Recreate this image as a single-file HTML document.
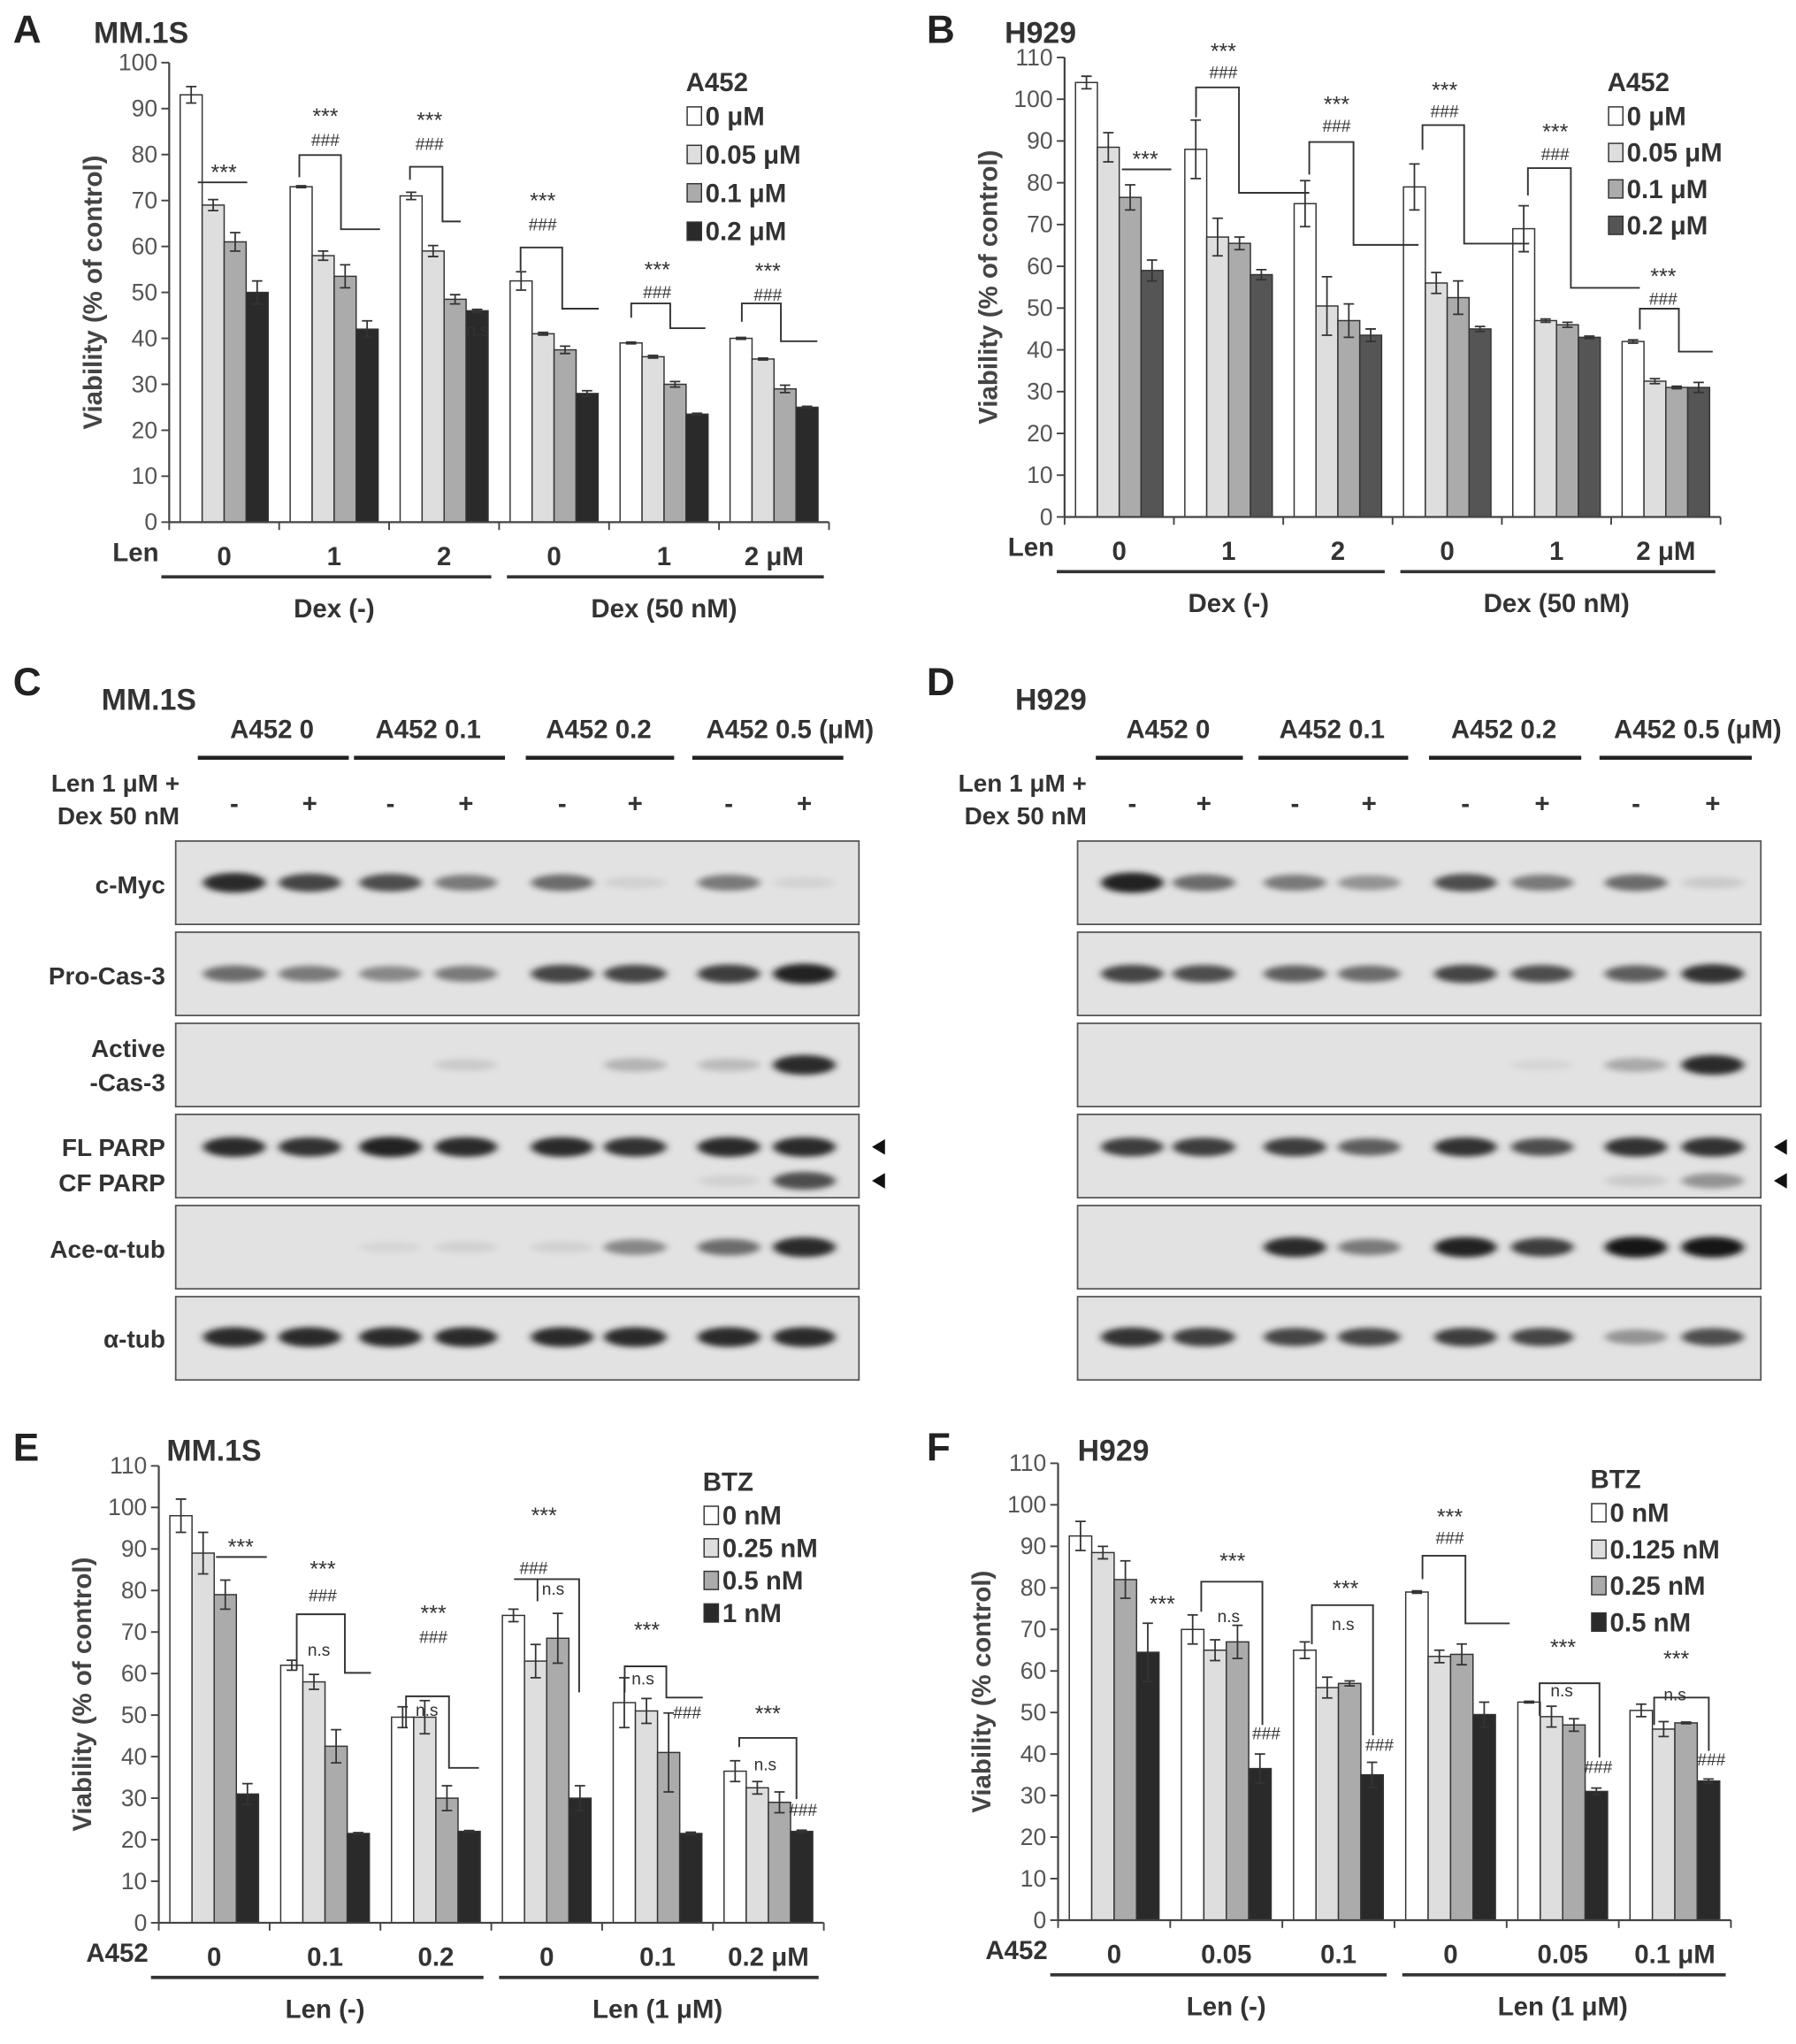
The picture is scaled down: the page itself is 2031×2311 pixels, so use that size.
<!DOCTYPE html>
<html><head><meta charset="utf-8"><style>
html,body{margin:0;padding:0;background:#fff;}
svg{display:block;font-family:"Liberation Sans",Arial,sans-serif;}
</style></head><body>
<svg id="fig" width="2031" height="2311" viewBox="0 0 1380 1570" xmlns="http://www.w3.org/2000/svg">
<defs>
<filter id="blur" x="-20%" y="-100%" width="140%" height="300%"><feGaussianBlur stdDeviation="3 2.2"/></filter>
</defs>
<g id="root"></g>
</svg>
<script>
// ---- Panel A data (MM.1S, A452) ----
const catsA = ["0","1","2","0","1","2  μM"];
const aWhite = [93,73,71,52.5,39,40];
const aLight = [69,58,59,41,36,35.5];
const aMid = [61,53.5,48.5,37.5,30,29];
const aDark = [50,42,46,28,23.5,25];
const aErr = [[1.8,0.2,0.8,2,0.2,0.2],[1.2,1,1.2,0.3,0.3,0.2],[2,2.5,1,0.8,0.6,0.8],[2.5,1.8,0.3,0.6,0.2,0.2]];
const ticksA = [0,10,20,30,40,50,60,70,80,90,100];
const legA = ["0 μM","0.05 μM","0.1 μM","0.2 μM"];
// ---- Panel B data (H929, A452) ----
const catsB = ["0","1","2","0","1","2 μM"];
const bWhite = [104,88,75,79,69,42];
const bLight = [88.5,67,50.5,56,47,32.5];
const bMid = [76.5,65.5,47,52.5,46,31];
const bDark = [59,58,43.5,45,43,31];
const bErr = [[1.5,7,5.5,5.5,5.5,0.4],[3.5,4.5,7,2.5,0.4,0.6],[3,1.5,4,4,0.6,0.3],[2.5,1.2,1.5,0.6,0.3,1.2]];
const ticksB = [0,10,20,30,40,50,60,70,80,90,100,110];
const legB = ["0 μM","0.05 μM","0.1 μM","0.2 μM"];
// ---- Panel E data (MM.1S, BTZ) ----
const catsE = ["0","0.1","0.2","0","0.1","0.2 μM"];
const eWhite = [98,62,49.5,74,53,36.5];
const eLight = [89,58,49.5,63,51,32.5];
const eMid = [79,42.5,30,68.5,41,29];
const eDark = [31,21.5,22,30,21.5,22];
const eErr = [[4,1.2,2.5,1.5,6,2.5],[5,1.8,4,4,3,1.5],[3.5,4,3,6,9.5,2.5],[2.5,0.2,0.2,3,0.3,0.3]];
const ticksE = [0,10,20,30,40,50,60,70,80,90,100,110];
const legE = ["0 nM","0.25 nM","0.5 nM","1 nM"];
// ---- Panel F data (H929, BTZ) ----
const catsF = ["0","0.05","0.1","0","0.05","0.1 μM"];
const fWhite = [92.5,70,65,79,52.5,50.5];
const fLight = [88.5,65,56,63.5,49,46];
const fMid = [82,67,57,64,47,47.5];
const fDark = [64.5,36.5,35,49.5,31,33.5];
const fErr = [[3.5,3.5,2,0.3,0.2,1.5],[1.5,2.5,2.5,1.5,2.5,1.8],[4.5,4,0.6,2.5,1.5,0.2],[7,3.5,3,3,0.8,0.5]];
const ticksF = [0,10,20,30,40,50,60,70,80,90,100,110];
const legF = ["0 nM","0.125 nM","0.25 nM","0.5 nM"];
// ---- Western blot intensities ----
const blotRowsC = {
  myc:[.9,.75,.7,.55,.6,.1,.55,.08],
  pro:[.6,.55,.5,.55,.75,.75,.8,.95],
  act:[0,0,0,.15,0,.3,.25,.9],
  fl:[.9,.85,.95,.9,.9,.85,.9,.9],
  cf:[0,0,0,0,0,0,.1,.7],
  ace:[0,0,.05,.1,.1,.5,.6,.9],
  tub:[.9,.9,.9,.9,.9,.9,.9,.9]};
const blotRowsD = {
  myc:[.95,.6,.55,.45,.7,.55,.6,.15],
  pro:[.75,.7,.65,.6,.75,.7,.65,.85],
  act:[0,0,0,0,0,.05,.35,.9],
  fl:[.8,.8,.8,.65,.85,.7,.85,.85],
  cf:[0,0,0,0,0,0,.15,.45],
  ace:[0,0,.9,.55,.95,.8,1,1],
  tub:[.85,.8,.75,.75,.8,.75,.45,.7]};

const NS="http://www.w3.org/2000/svg";
const root=document.getElementById('root');
function mk(tag,attrs,parent,text){const e=document.createElementNS(NS,tag);for(const k in attrs)e.setAttribute(k,attrs[k]);if(text!==undefined)e.textContent=text;(parent||root).appendChild(e);return e;}
const fills=["#ffffff","#dedede","#ababab","#2a2a2a"];

function chart(o){
  const g=mk('g',{});
  
  
  const y=v=>o.y0-(v-0)*(o.y0-o.yTop)/o.max;
  const gw=(o.xEnd-o.x0)/o.cats.length;
  // title letter & cell line
  const t1=mk('text',{x:o.lx,y:o.ly,'font-size':30,'font-weight':'bold',fill:'#222'},g,o.letter);
  
  const t2=mk('text',{x:o.tx,y:o.ly,'font-size':23,'font-weight':'bold',fill:'#333'},g,o.title);
  
  // y ticks
  o.ticks.forEach(v=>{
    mk('line',{x1:o.x0-6,x2:o.x0,y1:y(v),y2:y(v),stroke:'#444','stroke-width':1.3},g);
    const tl=mk('text',{x:o.x0-9,y:y(v)+6,'font-size':18,fill:'#555','text-anchor':'end'},g,v);
    
  });
  const yt=mk('text',{x:0,y:0,'font-size':20,'font-weight':'bold',fill:'#444','text-anchor':'middle',transform:`translate(${o.x0-52},${(o.y0+o.yTop)/2}) rotate(-90)`},g,o.ytitle);
  
  // bars
  const bw=gw*0.2;
  o.series.forEach((s,si)=>{
    s.forEach((v,ci)=>{
      const bx=o.x0+gw*ci+gw*0.1+si*bw;
      const r=mk('rect',{x:bx,y:y(v),width:bw,height:o.y0-y(v),fill:fills[si===3?3:si],stroke:'#333','stroke-width':1},g);
      if(si===3)r.setAttribute('fill',o.dark);
      
      
      const e=o.err[si][ci], cx=bx+bw/2;
      mk('path',{d:`M${cx},${y(v+e)}V${y(v-e)}M${cx-4},${y(v+e)}H${cx+4}M${cx-4},${y(v-e)}H${cx+4}`,stroke:'#333','stroke-width':1.2,fill:'none'},g);
    });
  });
  // axes
  mk('line',{x1:o.x0,x2:o.x0,y1:o.yTop,y2:o.y0,stroke:'#444','stroke-width':1.5},g);
  const xa=mk('line',{x1:o.x0,x2:o.xEnd,y1:o.y0,y2:o.y0,stroke:'#444','stroke-width':1.5},g);
  
  for(let i=0;i<=o.cats.length;i++) mk('line',{x1:o.x0+gw*i,x2:o.x0+gw*i,y1:o.y0,y2:o.y0+6,stroke:'#444','stroke-width':1.3},g);
  o.cats.forEach((c,i)=>{
    const cl=mk('text',{x:o.x0+gw*(i+0.5),y:o.y0+33,'font-size':20,'font-weight':'bold',fill:'#333','text-anchor':'middle'},g,c);
    
  });
  const rl=mk('text',{x:o.x0-8,y:o.y0+30,'font-size':20,'font-weight':'bold',fill:'#333','text-anchor':'end'},g,o.rowLabel);
  
  const mid=o.x0+gw*3;
  mk('line',{x1:o.x0-6,x2:mid-6,y1:o.y0+42,y2:o.y0+42,stroke:'#333','stroke-width':2.5},g);
  mk('line',{x1:mid+6,x2:o.xEnd-4,y1:o.y0+42,y2:o.y0+42,stroke:'#333','stroke-width':2.5},g);
  const g1=mk('text',{x:(o.x0+mid)/2,y:o.y0+73,'font-size':20,'font-weight':'bold',fill:'#333','text-anchor':'middle'},g,o.grp[0]);
  
  const g2=mk('text',{x:(mid+o.xEnd)/2,y:o.y0+73,'font-size':20,'font-weight':'bold',fill:'#333','text-anchor':'middle'},g,o.grp[1]);
  
  // legend
  const lt=mk('text',{x:o.legX,y:o.legY,'font-size':20,'font-weight':'bold',fill:'#333'},g,o.legTitle);
  
  o.leg.forEach((l,i)=>{
    const ly=o.legY+26+i*o.legStep;
    const sq=mk('rect',{x:o.legX+1,y:ly-14,width:11,height:14,fill:i===3?o.dark:fills[i],stroke:'#333','stroke-width':1},g);
    
    const tx=mk('text',{x:o.legX+15,y:ly,'font-size':20,'font-weight':'bold',fill:'#333'},g,l);
    
  });
  // annotations
  (o.ann||[]).forEach(a=>{
    if(a[0]==='p') mk('path',{d:a[1],stroke:'#333','stroke-width':1.3,fill:'none'},g);
    else{const at=mk('text',{x:a[1],y:a[2],'font-size':a[0]==='***'?17:13,fill:'#333','text-anchor':'middle'},g,a[0]);
      }
  });
}

chart({name:'chart-a',letter:'A',title:'MM.1S',lx:10,ly:33,tx:72,x0:130,xEnd:637,y0:401,yTop:48,max:100,ticks:ticksA,cats:catsA,
 series:[aWhite,aLight,aMid,aDark],err:aErr,dark:'#2a2a2a',ytitle:'Viability (% of  control)',rowLabel:'Len',grp:['Dex (-)','Dex (50 nM)'],
 legTitle:'A452',leg:legA,legX:527,legY:70,legStep:29.5,
 ann:[['p','M152,140H190'],['***',172,138],['***',250,95],['###',250,112],['p','M230,136V119H262V176H292'],['***',330,98],['###',330,115],['p','M315,138V128H340V170H354'],['n.s',367,258],
 ['***',417,160],['###',417,177],['p','M400,208V190H432V237H460'],['***',505,213],['###',505,229],['p','M485,244V233H515V252H542'],['***',590,214],['###',590,231],['p','M570,247V233H600V262H628']]});

chart({name:'chart-b',letter:'B',title:'H929',lx:712,ly:33,tx:772,x0:818,xEnd:1322,y0:397,yTop:44,max:110,ticks:ticksB,cats:catsB,
 series:[bWhite,bLight,bMid,bDark],err:bErr,dark:'#555555',ytitle:'Viability (% of control)',rowLabel:'Len',grp:['Dex (-)','Dex (50 nM)'],
 legTitle:'A452',leg:legB,legX:1235,legY:70,legStep:28,
 ann:[['p','M862,130H900'],['***',880,128],['***',940,45],['###',940,60],['p','M919,90V67H952V148H1006'],['***',1027,86],['###',1027,101],['p','M1006,134V109H1040V188H1090'],
 ['***',1110,75],['###',1110,90],['p','M1093,115V96H1125V187H1175'],['***',1195,107],['###',1195,123],['p','M1174,150V129H1207V221H1260'],['***',1278,218],['###',1278,234],['p','M1260,253V237H1290V270H1316']]});

chart({name:'chart-e',letter:'E',title:'MM.1S',lx:10,ly:1122,tx:128,x0:122,xEnd:633,y0:1477,yTop:1126,max:110,ticks:ticksE,cats:catsE,
 series:[eWhite,eLight,eMid,eDark],err:eErr,dark:'#2a2a2a',ytitle:'Viability (% of control)',rowLabel:'A452',grp:['Len (-)','Len (1 μM)'],
 legTitle:'BTZ',leg:legE,legX:540,legY:1145,legStep:25,
 ann:[['p','M166,1196H205'],['***',185,1194],['***',248,1211],['###',248,1230],['n.s',245,1272],['p','M228,1283V1240H265V1285H285'],['***',333,1245],['###',333,1262],['n.s',328,1318],['p','M312,1327V1303H345V1358H368'],
 ['***',418,1170],['###',410,1209],['n.s',425,1225],['p','M395,1213H445V1300'],['p','M413,1230V1213'],['***',497,1258],['n.s',494,1294],['###',528,1320],['p','M480,1300V1280H512V1304H540'],['***',590,1322],['n.s',588,1360],['###',617,1395],['p','M568,1342V1335H612V1382']]});

chart({name:'chart-f',letter:'F',title:'H929',lx:712,ly:1122,tx:828,x0:813,xEnd:1330,y0:1475,yTop:1124,max:110,ticks:ticksF,cats:catsF,
 series:[fWhite,fLight,fMid,fDark],err:fErr,dark:'#2a2a2a',ytitle:'Viability (% control)',rowLabel:'A452',grp:['Len (-)','Len (1 μM)'],
 legTitle:'BTZ',leg:legF,legX:1222,legY:1143,legStep:28,
 ann:[['***',893,1238],['***',947,1205],['n.s',944,1246],['###',973,1336],['p','M923,1238V1215H970V1325'],['***',1034,1226],['n.s',1032,1252],['###',1060,1345],['p','M1008,1263V1233H1055V1333'],
 ['***',1114,1171],['###',1114,1186],['p','M1093,1213V1195H1126V1247H1160'],['***',1201,1271],['n.s',1200,1303],['###',1228,1362],['p','M1183,1318V1293H1229V1350'],['***',1288,1280],['n.s',1287,1306],['###',1315,1356],['p','M1271,1325V1304H1313V1345']]});

// ---- Western blots ----
function blot(o){
  const g=mk('g',{});
  
  
  const l1=mk('text',{x:o.lx,y:534,'font-size':30,'font-weight':'bold',fill:'#222'},g,o.letter);
  
  const l2=mk('text',{x:o.lx+68,y:545,'font-size':23,'font-weight':'bold',fill:'#333'},g,o.title);
  
  const heads=['A452 0','A452 0.1','A452 0.2','A452 0.5 (μM)'];
  heads.forEach((h,i)=>{
    const cx=(o.lanes[i*2]+o.lanes[i*2+1])/2;
    const ht=mk('text',{x:cx+(i===3?18:0),y:567,'font-size':20,'font-weight':'bold',fill:'#333','text-anchor':'middle'},g,h);
    
    mk('line',{x1:o.lanes[i*2]-28,x2:o.lanes[i*2+1]+30,y1:582,y2:582,stroke:'#222','stroke-width':3},g);
  });
  const t1=mk('text',{x:o.tlx,y:608,'font-size':19,'font-weight':'bold',fill:'#333','text-anchor':'end'},g,'Len 1 μM +');
  
  const t2=mk('text',{x:o.tlx,y:633,'font-size':19,'font-weight':'bold',fill:'#333','text-anchor':'end'},g,'Dex 50 nM');
  
  o.lanes.forEach((lx,i)=>{mk('text',{x:lx,y:624,'font-size':20,'font-weight':'bold',fill:'#333','text-anchor':'middle'},g,i%2?'+':'-');});
  const rows=[['c-Myc',646,['myc',678]],['Pro-Cas-3',716,['pro',748]],['Active',786,['act',818]],['FL PARP',856,['fl',881],['cf',907]],['Ace-α-tub',926,['ace',958]],['α-tub',996,['tub',1027]]];
  rows.forEach(r=>{
    const bx=mk('rect',{x:o.bx,y:r[1],width:525,height:64,fill:'#e2e2e2',stroke:'#555','stroke-width':1.2},g);
    
    for(let k=2;k<r.length;k++){
      const vals=o.data[r[k][0]];
      vals.forEach((v,i)=>{ if(v<=0)return;
        const c=Math.round(200-175*v);
        mk('ellipse',{cx:o.lanes[i],cy:r[k][1],rx:24,ry:4+4*v,fill:`rgb(${c},${c},${c})`,opacity:Math.min(1,0.3+v),filter:'url(#blur)'},g);
      });
    }
  });
  if(o.labels){
    const lab=[['c-Myc',686],['Pro-Cas-3',756],['Active',812],['-Cas-3',838],['FL PARP',888],['CF PARP',915],['Ace-α-tub',966],['α-tub',1035]];
    lab.forEach(l=>{const t=mk('text',{x:127,y:l[1],'font-size':19,'font-weight':'bold',fill:'#333','text-anchor':'end'},g,l[0]);
      });
  }
  mk('path',{d:`M${o.bx+535},881l10,-6v12z M${o.bx+535},907l10,-6v12z`,fill:'#111'},g);
}
blot({name:'blot-c',letter:'C',title:'MM.1S',lx:10,tlx:138,bx:135,lanes:[180,238,300,358,432,488,560,618],data:blotRowsC,labels:true});
blot({name:'blot-d',letter:'D',title:'H929',lx:712,tlx:835,bx:828,lanes:[870,925,995,1052,1126,1185,1257,1316],data:blotRowsD,labels:false});
</script>
</body></html>
